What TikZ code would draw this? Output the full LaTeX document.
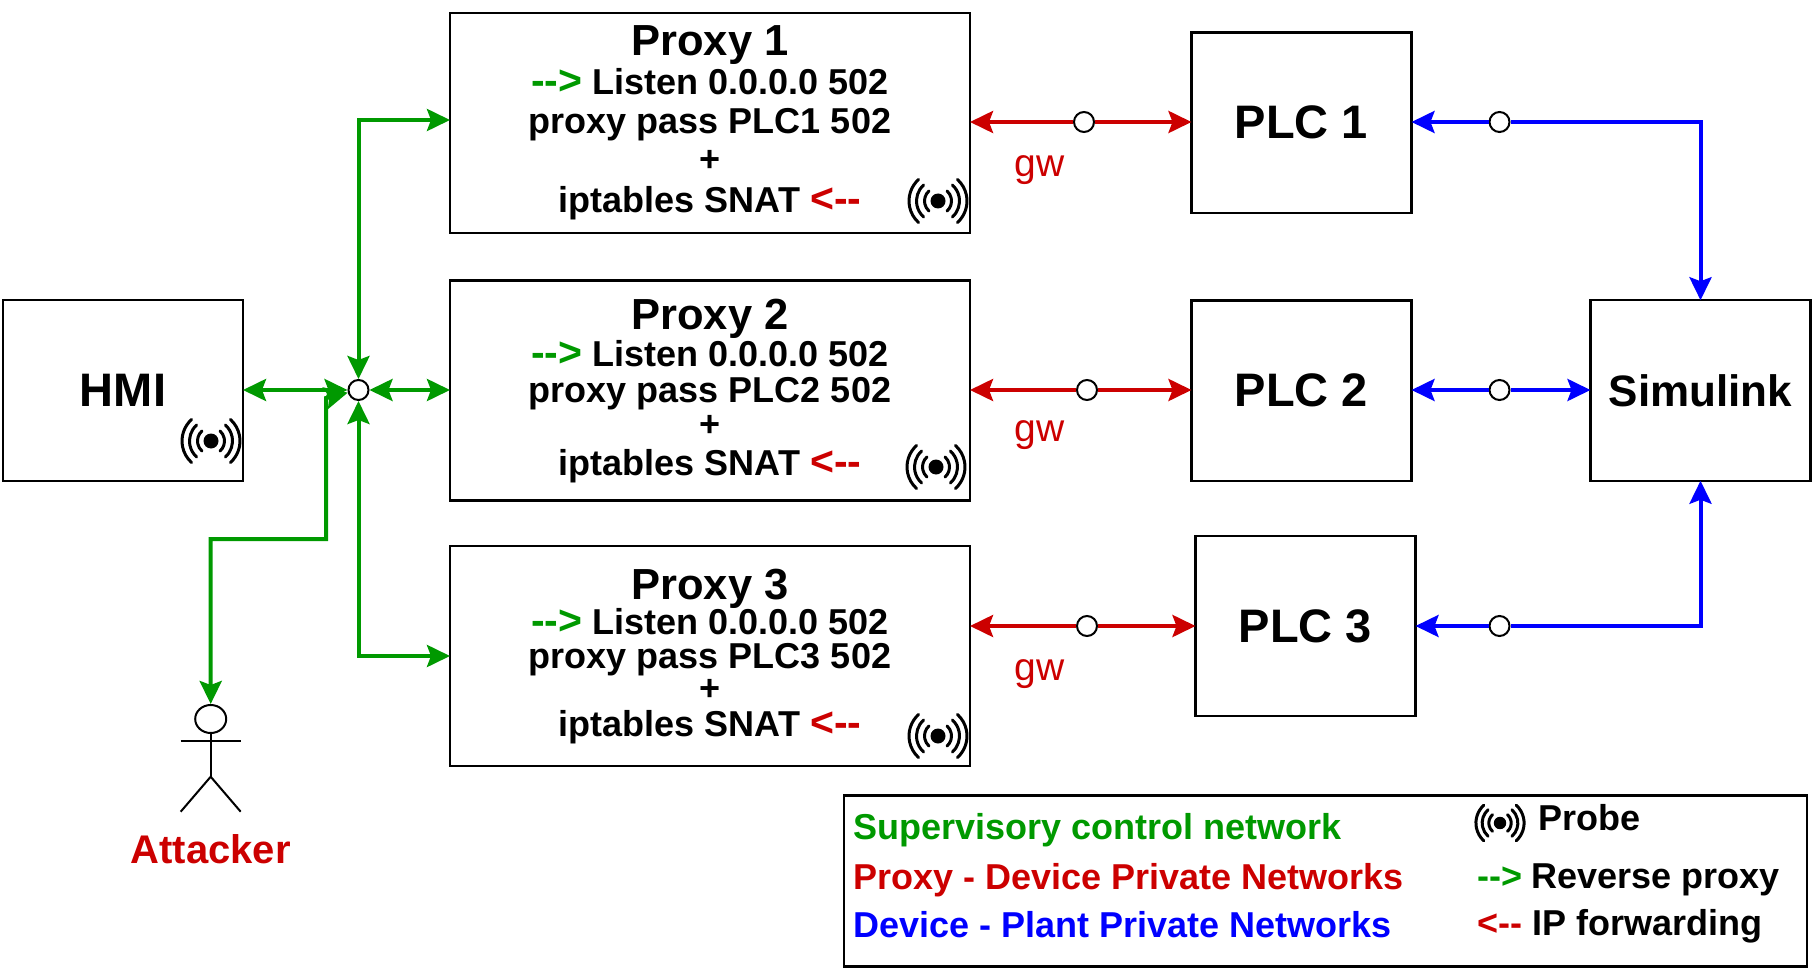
\documentclass[tikz,border=0pt]{standalone}
\usepackage{fontspec}
\setmainfont{Liberation Sans}
\usetikzlibrary{arrows.meta, positioning, shapes.geometric}

\definecolor{netgreen}{HTML}{009900}
\definecolor{netred}{HTML}{CC0000}
\definecolor{netblue}{HTML}{0000FF}

\tikzset{
  unit/.style={draw, rectangle, line width=2.3pt, outer sep=0pt, inner sep=0pt, font=\fontsize{47}{47}\bfseries},
  proxybox/.style={unit, minimum width=520pt, minimum height=220pt},
  plcbox/.style={unit, minimum width=220pt, minimum height=180.5pt},
  proxytitle/.style={anchor=base, inner sep=0pt, font=\fontsize{43.5}{43.5}\bfseries},
  proxyline/.style={anchor=base, inner sep=0pt, font=\fontsize{36}{36}\bfseries},
  legendline/.style={anchor=base west, inner sep=0pt, font=\fontsize{36}{36}\bfseries},
  gwlabel/.style={inner sep=0pt, text=netred, font=\fontsize{39}{39}\selectfont},
  tap/.style={draw, circle, line width=2pt, fill=white, minimum size=20pt, inner sep=0pt, outer sep=1pt},
  greenline/.style={draw=netgreen, line width=4pt, {Stealth[length=23pt,width=22pt,inset=4pt]}-{Stealth[length=23pt,width=22pt,inset=4pt]}},
  redline/.style={draw=netred, line width=4pt, -{Stealth[length=23pt,width=22pt,inset=4pt]}},
  blueline/.style={draw=netblue, line width=4pt, -{Stealth[length=23pt,width=22pt,inset=4pt]}},
  probe/.pic={
    \fill (0,0) circle[radius=7.5pt];
    \foreach \r in {13.5,21.5,29} {
      \draw[line width=3pt, line cap=round] (-48:\r pt) arc[start angle=-48, end angle=48, radius=\r pt];
      \draw[line width=3pt, line cap=round] (132:\r pt) arc[start angle=132, end angle=228, radius=\r pt];
    }
  }
}

\newcommand{\fwdtip}{\textcolor{netgreen}{{-}{-}>}}
\newcommand{\backtip}{\textcolor{netred}{<{-}{-}}}
\newcommand{\fwdbig}{{\fontsize{41}{41}\selectfont\fwdtip}}
\newcommand{\backbig}{{\fontsize{41}{41}\selectfont\backtip}}

\begin{document}
\begin{tikzpicture}[x=1pt, y=-1pt]

\useasboundingbox (0,0) rectangle (1814,976);

% boxes
\node[unit, minimum width=240pt, minimum height=180.5pt] (HMI) at (123,390.5) {HMI};
\node[proxybox] (proxy1) at (710,123) {};
\node[proxybox, below=47.5pt of proxy1] (proxy2) {};
\node[proxybox, below=45.5pt of proxy2] (proxy3) {};
\node[plcbox] (PLC1) at (1301.5,122.7) {PLC 1};
\node[plcbox, below=87.5pt of PLC1] (PLC2) {PLC 2};
\node[plcbox] (PLC3) at (1305.5,626) {PLC 3};
\node[unit, minimum width=220pt, minimum height=180.5pt, font=\fontsize{44}{44}\bfseries] (Simulink) at (1700.5,390.5) {Simulink};

% proxy 1 text
\node[proxytitle] (title1) at (710,56) {Proxy 1};
\node[proxyline] (listen1) at (710,95) {\fwdbig{} Listen 0.0.0.0 502};
\node[proxyline] (pass1) at (710,134) {proxy pass PLC1 502};
\node[proxyline] (plus1) at (710,172) {+};
\node[proxyline] (snat1) at (710,213) {iptables SNAT \backbig};

% proxy 2 text
\node[proxytitle] (title2) at (710,329.5) {Proxy 2};
\node[proxyline] (listen2) at (710,366) {\fwdbig{} Listen 0.0.0.0 502};
\node[proxyline] (pass2) at (710,402) {proxy pass PLC2 502};
\node[proxyline] (plus2) at (710,436) {+};
\node[proxyline] (snat2) at (710,475) {iptables SNAT \backbig};

% proxy 3 text
\node[proxytitle] (title3) at (710,599.5) {Proxy 3};
\node[proxyline] (listen3) at (710,634) {\fwdbig{} Listen 0.0.0.0 502};
\node[proxyline] (pass3) at (710,668) {proxy pass PLC3 502};
\node[proxyline] (plus3) at (710,700) {+};
\node[proxyline] (snat3) at (710,736) {iptables SNAT \backbig};

% probes
\pic at (211,441) {probe};
\pic at (938,201) {probe};
\pic at (936,467) {probe};
\pic at (938,736) {probe};

% supervisory network
\node[tap] (hub) at (358.5,390) {};
\draw[greenline] (HMI.east |- hub) -- (hub);
\draw[greenline] (hub) -- (proxy2.west |- hub);
\draw[greenline] (hub) |- ([yshift=3pt] proxy1.west);
\draw[greenline] (hub) |- (proxy3);

% attacker
\node[draw, ellipse, line width=2pt, minimum width=31pt, minimum height=28pt, inner sep=0pt] (head) at (210.7,719) {};
\coordinate (neck) at (210.7,741);
\coordinate (hip) at (210.7,776.7);
\coordinate (armL) at (180.7,741);
\coordinate (armR) at (240.7,741);
\coordinate (footL) at (180.7,811.7);
\coordinate (footR) at (240.7,811.7);
\draw[line width=2pt] (head) -- (hip);
\draw[line width=2pt] (armL) -- (armR);
\draw[line width=2pt] (footL) -- (hip) -- (footR);
\node[inner sep=0pt, text=netred, font=\fontsize{40}{40}\bfseries] (attacker) at (210.7,849) {Attacker};
\coordinate (elbow) at (326,539);
\coordinate (riser) at (326,398);
\draw[greenline] (head) |- (elbow) -- (riser) -- (hub);

% proxy to device networks
\node[tap] (gate1) at (1084,122) {};
\node[tap] (gate2) at (1087,390) {};
\node[tap] (gate3) at (1087,626) {};
\draw[redline] (gate1) -- (proxy1.east |- gate1);
\draw[redline] (gate1) -- (PLC1.west |- gate1);
\draw[redline] (gate2) -- (proxy2.east |- gate2);
\draw[redline] (gate2) -- (PLC2.west |- gate2);
\draw[redline] (gate3) -- (proxy3.east |- gate3);
\draw[redline] (gate3) -- (PLC3);
\node[gwlabel] (gw1) at (1039.5,170) {gw};
\node[gwlabel] (gw2) at (1039.5,435) {gw};
\node[gwlabel] (gw3) at (1039.5,674) {gw};

% device to plant networks
\node[tap] (tap1) at (1499.5,122) {};
\node[tap] (tap2) at (1499.5,390) {};
\node[tap] (tap3) at (1499.5,626) {};
\draw[blueline] (tap1) -- (PLC1.east |- tap1);
\draw[blueline] (tap1) -| (Simulink);
\draw[blueline] (tap2) -- (PLC2.east |- tap2);
\draw[blueline] (tap2) -- (Simulink.west |- tap2);
\draw[blueline] (tap3) -- (PLC3);
\draw[blueline] (tap3) -| (Simulink);

% legend
\node[draw, rectangle, line width=2.3pt, minimum width=963pt, minimum height=171pt, inner sep=0pt] (legend) at (1325.5,881) {};
\node[legendline, text=netgreen] (supervisory) at (853.5,839) {Supervisory control network};
\node[legendline, text=netred] (private) at (853.5,889) {Proxy - Device Private Networks};
\node[legendline, text=netblue] (plant) at (853.5,937.5) {Device - Plant Private Networks};
\pic[scale=0.83] at (1500,823) {probe};
\node[legendline] (probetext) at (1538.5,830) {Probe};
\node[legendline] (revtip) at (1477,888) {\fwdtip};
\node[legendline] (revtext) at (1531,888) {Reverse proxy};
\node[legendline] (fwdtip) at (1477,935) {\backtip};
\node[legendline] (fwdtext) at (1532,935) {IP forwarding};

\end{tikzpicture}
\end{document}
